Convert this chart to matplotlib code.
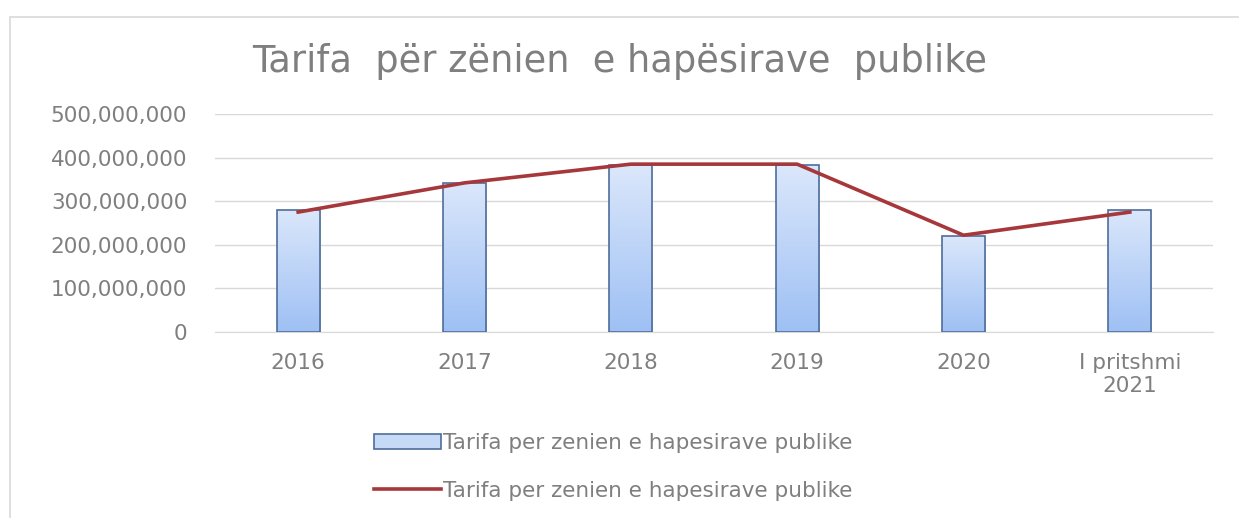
import numpy as np
import matplotlib
matplotlib.use("Agg")
import matplotlib.pyplot as plt
from matplotlib.colors import LinearSegmentedColormap
from matplotlib.patches import Rectangle
from matplotlib.ticker import FuncFormatter

# dados
categorias = ["2016", "2017", "2018", "2019", "2020", "I pritshmi\n2021"]
valores_barras = [280e6, 342e6, 383e6, 383e6, 220e6, 280e6]
valores_linha = [275e6, 342e6, 385e6, 385e6, 222e6, 275e6]
titulo = "Tarifa  për zënien  e hapësirave  publike"
legenda = "Tarifa per zenien e hapesirave publike"

cinza = "#7f7f7f"
plt.rcParams['font.family'] = ['DejaVu Sans']

fig = plt.figure(figsize=(12.39, 5.18), dpi=100)
ax = fig.add_axes([215/1239, 1-332/518, (1213-215)/1239, (332-114)/518])

# moldura do gráfico
fig.patches.append(Rectangle((10/1239, -0.1), 1.2, 1.1 - 17/518,
                             transform=fig.transFigure, fill=False,
                             edgecolor="#d9d9d9", linewidth=1.2))

x = np.arange(len(categorias))
barras = ax.bar(x, valores_barras, width=0.26, facecolor="none",
                edgecolor="#4f6d99", linewidth=1.2, zorder=3,
                label=legenda)

# gradiente nas barras
cmap = LinearSegmentedColormap.from_list("azul", ["#9ec0f4", "#dbe7fb"])
grad = np.linspace(0, 1, 256).reshape(-1, 1)
for b in barras:
    x0, y0 = b.get_x(), b.get_y()
    w, h = b.get_width(), b.get_height()
    im = ax.imshow(grad, cmap=cmap, origin="lower", aspect="auto",
                   extent=[x0, x0 + w, y0, y0 + h], zorder=2)
    im.set_clip_path(b)

ax.plot(x, valores_linha, color="#a6373a", linewidth=2.6, zorder=4,
        label=legenda)

ax.set_xlim(-0.5, len(categorias) - 0.5)
ax.set_ylim(0, 500e6)
ax.set_yticks(np.arange(0, 500e6 + 1, 100e6))
ax.yaxis.set_major_formatter(FuncFormatter(lambda v, p: f"{v:,.0f}"))
ax.set_xticks(x)
ax.set_xticklabels(categorias)
ax.grid(axis="y", color="#d9d9d9", linewidth=1)
ax.set_axisbelow(True)
for s in ["top", "right", "left"]:
    ax.spines[s].set_visible(False)
ax.spines["bottom"].set_color("#d9d9d9")
ax.tick_params(axis="both", length=0, colors=cinza, labelsize=15.5)
ax.tick_params(axis="y", pad=20)
ax.tick_params(axis="x", pad=15)

fig.text(0.5, 1-62/518, titulo, ha="center", va="center",
         fontsize=26.5, color=cinza)

handles, labels = ax.get_legend_handles_labels()
ordem = [1, 0]  # barras primeiro, como no original
leg = fig.legend([handles[i] for i in ordem], [labels[i] for i in ordem],
                 loc="center left", bbox_to_anchor=(355/1239, 1-467/518),
                 ncol=1, frameon=False, fontsize=15.5, labelcolor=cinza,
                 handlelength=3.1, handletextpad=0.1, labelspacing=1.3)
for h in leg.legend_handles:
    if isinstance(h, Rectangle):
        h.set_facecolor("#c6d9f6")

fig.savefig("out.png", dpi=100, facecolor="white")
